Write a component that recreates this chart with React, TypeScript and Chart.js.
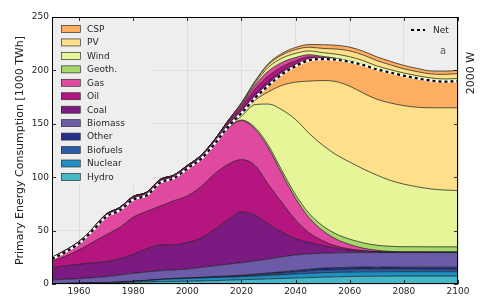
import React, { useEffect, useRef } from "react";
import { Chart, registerables } from "chart.js";
Chart.register(...registerables);

const years = [1950,1955,1960,1965,1970,1975,1980,1985,1990,1995,2000,2005,2010,2015,2020,2025,2030,2035,2040,2045,2050,2055,2060,2065,2070,2075,2080,2085,2090,2095,2100];

const hydro = [0.4,0.5,0.7,0.9,1.2,1.4,1.7,1.9,2.2,2.4,2.6,2.9,3.2,3.6,4.0,4.4,4.8,5.2,5.6,6.0,6.4,6.7,7.0,7.2,7.3,7.4,7.5,7.5,7.5,7.5,7.5];
const nuclear = [0,0,0,0,0.1,0.3,0.7,1.3,2.0,2.4,2.6,2.7,2.8,2.8,2.8,3.0,3.2,3.5,3.8,4.0,4.2,4.2,4.2,4.2,4.1,4.1,4.0,4.0,4.0,4.0,4.0];
const biofuels = [0,0,0,0,0,0,0.1,0.1,0.1,0.2,0.2,0.3,0.5,0.6,0.8,1.0,1.3,1.6,2.0,2.3,2.5,2.5,2.5,2.5,2.4,2.4,2.4,2.3,2.3,2.3,2.3];
const other = [0,0,0,0,0,0.1,0.1,0.2,0.2,0.3,0.3,0.4,0.5,0.5,0.6,0.8,1.0,1.1,1.2,1.5,1.8,1.9,2.0,2.0,2.0,2.0,1.9,1.9,1.9,1.9,1.9];
const biomass = [3.4,3.9,4.3,5.0,5.6,6.6,7.4,7.8,8.0,7.9,8.3,9.2,10.0,11.0,11.8,12.5,13.2,14.0,14.6,14.4,13.9,13.9,13.7,13.5,13.6,13.5,13.6,13.7,13.7,13.7,13.7];
const coal = [11.5,12.6,13.5,13.9,14.1,15.1,17.8,21.7,24.1,23.6,24.8,27.5,34,41.5,47.5,42.8,32.5,23.1,15.3,10.8,7.2,4.3,2.4,1.3,0.7,0.4,0.3,0.3,0.3,0.3,0.3];
const oil = [6.2,9,13.5,19.2,25,29.5,34.8,35,36.4,41.2,43.7,48,52,52,49,46.5,37,27.5,17.5,9,4.5,2,1,0.5,0.3,0.2,0.2,0.2,0.2,0.2,0.2];
const gas = [2,4,6,11,17,16,16.4,15,22,21,25.5,26,27.5,33.5,36.5,34,34,27,20,14,9.5,6.5,4.2,2.3,1.1,0.5,0.2,0.2,0.1,0.1,0.1];
const geoth = [0,0,0,0,0,0,0,0,0,0,0,0,0.1,0.3,0.5,1.5,2.5,3,3.5,4,4.5,4.8,5,5,4.8,4.8,4.8,4.8,4.8,4.8,4.8];
const wind = [0,0,0,0,0,0,0,0,0,0,0,0,0.4,1.2,3.5,21.5,39,57,70.5,75,75.5,74.2,72.2,69.2,65.7,61.7,58.6,56.1,54.2,53.2,52.7];
const pv = [0,0,0,0,0,0,0,0,0,0,0,0,0,0,2,4,11.5,23,35,49,60.5,68.5,71,71,71,72.5,73.5,74.5,76,77,77.5];
const csp = [0,0,0,0,0,0,0,0,0,0,0,0,0,0,1,2,6,10.5,15,19.5,20,20.5,23,26.5,28,28.5,28,27,25.5,24.5,25];

// thin layers drawn above the net line
const coalX = [0.8,0.9,1,1.1,1.2,1.3,1.5,1.5,1.5,1.5,1.5,1.7,2,2.5,3,4,4,3,2,1.2,0.6,0.3,0.1,0,0,0,0,0,0,0,0];
const oilX = [0.5,0.6,0.7,0.8,1,1.1,1.2,1.2,1.2,1.2,1.2,1.3,1.5,2,3,4.5,5,4,3,2,1,0.5,0.2,0,0,0,0,0,0,0,0];
const gasX = [0.2,0.2,0.2,0.2,0.3,0.3,0.3,0.3,0.3,0.3,0.3,0.4,0.5,1,2,3.5,4.5,4,3,2,1,0.6,0.3,0.1,0,0,0,0,0,0,0];
const windX = [0,0,0,0,0,0,0,0,0,0,0,0,0,0.3,1,2,3.5,4,4,3.5,3.5,3.8,4,3.8,3.2,2.7,2.5,2.5,2.5,2.5,2.5];
const pvX = [0,0,0,0,0,0,0,0,0,0,0,0,0,0,0.5,1.5,2.5,3,3.5,3.5,4,4.8,5.5,5.3,5,4.5,4,3.8,3.7,4.3,4.5];
const cspX = [0,0,0,0,0,0,0,0,0,0,0,0,0,0,0.2,0.5,1,1.5,2,2.5,3.5,3.5,3.5,3.5,3.5,3.3,3.2,3,2.8,3,3];

const net = [23.5,30,38,50,63,69,79,83,95,99,108,117,131,147,160,174,186,196.5,204,209.5,210.5,210,208,205,201,198,195,192.5,190.5,189.5,190];

const xTicks = [1960,1980,2000,2020,2040,2060,2080,2100];
const yTicks = [0,50,100,150,200,250];

const C = {
  CSP: "#fdae61", PV: "#fee08b", Wind: "#e6f598", Geoth: "#a6d96a",
  Gas: "#df4aa0", Oil: "#b5157e", Coal: "#7b1a80", Biomass: "#6b5ba8",
  Other: "#26308f", Biofuels: "#2b5ca6", Nuclear: "#1f8fc3", Hydro: "#45b8c8",
};

const legendItems: [string, string][] = [
  ["CSP", C.CSP], ["PV", C.PV], ["Wind", C.Wind], ["Geoth.", C.Geoth],
  ["Gas", C.Gas], ["Oil", C.Oil], ["Coal", C.Coal], ["Biomass", C.Biomass],
  ["Other", C.Other], ["Biofuels", C.Biofuels], ["Nuclear", C.Nuclear], ["Hydro", C.Hydro],
];

const FONT = "'DejaVu Sans', sans-serif";

export default function App() {
  const ref = useRef<HTMLCanvasElement>(null);
  useEffect(() => {
    document.body.style.margin = "0";
    const pts = (arr: number[]) => years.map((x, i) => ({ x, y: arr[i] }));
    const area = (label: string, arr: number[], color: string, first = false) => ({
      label,
      data: pts(arr),
      backgroundColor: color,
      borderColor: "#141414",
      borderWidth: 0.7,
      pointRadius: 0,
      fill: first ? "origin" : "-1",
      cubicInterpolationMode: "monotone",
      stack: "main",
    });
    const datasets: any[] = [
      area("Hydro", hydro, C.Hydro, true),
      area("Nuclear", nuclear, C.Nuclear),
      area("Biofuels", biofuels, C.Biofuels),
      area("Other", other, C.Other),
      area("Biomass", biomass, C.Biomass),
      area("Coal", coal, C.Coal),
      area("Oil", oil, C.Oil),
      area("Gas", gas, C.Gas),
      area("Geoth.", geoth, C.Geoth),
      area("Wind", wind, C.Wind),
      area("PV", pv, C.PV),
      area("CSP", csp, C.CSP),
      area("coalX", coalX, C.Coal),
      area("oilX", oilX, C.Oil),
      area("gasX", gasX, C.Gas),
      area("windX", windX, C.Wind),
      area("pvX", pvX, C.PV),
      area("cspX", cspX, C.CSP),
      {
        label: "netWhite", data: pts(net), borderColor: "#ffffff", borderWidth: 2.4,
        pointRadius: 0, fill: false, cubicInterpolationMode: "monotone", stack: "nw", order: -1,
      },
      {
        label: "Net", data: pts(net), borderColor: "#000000", borderWidth: 2.2, borderDash: [3, 3],
        pointRadius: 0, fill: false, cubicInterpolationMode: "monotone", stack: "nk", order: -2,
      },
    ];

    const deco = {
      id: "deco",
      beforeDraw(chart: any) {
        const { ctx, chartArea: a } = chart;
        ctx.save();
        ctx.fillStyle = "#eeeeee";
        ctx.fillRect(a.left, a.top, a.right - a.left, a.bottom - a.top);
        ctx.restore();
      },
      afterDraw(chart: any) {
        const { ctx, chartArea: a, scales } = chart;
        ctx.save();
        // legend box
        ctx.fillStyle = "#eeeeee";
        ctx.fillRect(56, 19, 94, 166);
        ctx.font = `9px ${FONT}`;
        ctx.textBaseline = "middle";
        ctx.textAlign = "left";
        legendItems.forEach(([name, col], i) => {
          const y = 29 + i * 13.45;
          ctx.fillStyle = col;
          ctx.fillRect(61, y - 3.5, 19, 7);
          ctx.strokeStyle = "#333";
          ctx.lineWidth = 0.7;
          ctx.strokeRect(61.5, y - 3.5, 19, 7);
          ctx.fillStyle = "#262626";
          ctx.fillText(name, 87, y + 0.5);
        });
        // Net legend
        ctx.strokeStyle = "#000";
        ctx.lineWidth = 2;
        ctx.setLineDash([3, 3]);
        ctx.beginPath();
        ctx.moveTo(411, 30);
        ctx.lineTo(425, 30);
        ctx.stroke();
        ctx.setLineDash([]);
        ctx.fillStyle = "#262626";
        ctx.fillText("Net", 433, 30.5);
        // "a" label
        ctx.fillStyle = "#555";
        ctx.font = `10px ${FONT}`;
        ctx.fillText("a", 440, 51);
        // frame
        ctx.strokeStyle = "#000";
        ctx.lineWidth = 1;
        ctx.strokeRect(a.left + 0.5, a.top + 0.5, a.right - a.left - 1, a.bottom - a.top - 1);
        // inward ticks
        ctx.lineWidth = 0.8;
        ctx.beginPath();
        yTicks.forEach((v) => {
          const y = Math.round(scales.y.getPixelForValue(v)) + 0.5;
          ctx.moveTo(a.left, y); ctx.lineTo(a.left + 4, y);
          ctx.moveTo(a.right, y); ctx.lineTo(a.right - 4, y);
        });
        xTicks.forEach((v) => {
          const x = Math.round(scales.x.getPixelForValue(v)) + 0.5;
          ctx.moveTo(x, a.bottom); ctx.lineTo(x, a.bottom - 4);
          ctx.moveTo(x, a.top); ctx.lineTo(x, a.top + 4);
        });
        ctx.stroke();
        // axis title
        ctx.fillStyle = "#222";
        ctx.font = `11px ${FONT}`;
        ctx.textAlign = "center";
        ctx.save();
        ctx.translate(20, (a.top + a.bottom) / 2);
        ctx.rotate(-Math.PI / 2);
        ctx.fillText("Primary Energy Consumption [1000 TWh]", 0, 0);
        ctx.restore();
        ctx.save();
        ctx.translate(471, 73);
        ctx.rotate(-Math.PI / 2);
        ctx.fillText("2000 W", 0, 0);
        ctx.restore();
        ctx.restore();
      },
    };

    const chart = new Chart(ref.current!, {
      type: "line",
      data: { datasets },
      options: {
        responsive: false,
        animation: false,
        devicePixelRatio: 1,
        layout: { padding: { top: 17, right: 22, left: 0, bottom: 0 } },
        plugins: { legend: { display: false }, tooltip: { enabled: false } },
        scales: {
          x: {
            type: "linear",
            min: 1950,
            max: 2100,
            afterBuildTicks: (s: any) => { s.ticks = xTicks.map((v) => ({ value: v })); },
            afterFit: (s: any) => { s.height = 14; },
            grid: { color: "#d4d4d4", lineWidth: 0.6, drawTicks: false },
            border: { display: false },
            ticks: {
              padding: 2,
              color: "#262626",
              font: { family: FONT, size: 9 },
              callback: (v: any) => String(v),
              maxRotation: 0,
            },
          },
          y: {
            stacked: true,
            min: 0,
            max: 250,
            afterBuildTicks: (s: any) => { s.ticks = yTicks.map((v) => ({ value: v })); },
            afterFit: (s: any) => { s.width = 52; },
            grid: { color: "#d4d4d4", lineWidth: 0.6, drawTicks: false },
            border: { display: false },
            ticks: {
              padding: 3,
              color: "#262626",
              font: { family: FONT, size: 9 },
            },
          },
        },
      },
      plugins: [deco],
    } as any);
    return () => chart.destroy();
  }, []);
  return (
    <div style={{ width: 480, height: 298 }}>
      <canvas ref={ref} width={480} height={298} style={{ display: "block" }} />
    </div>
  );
}
